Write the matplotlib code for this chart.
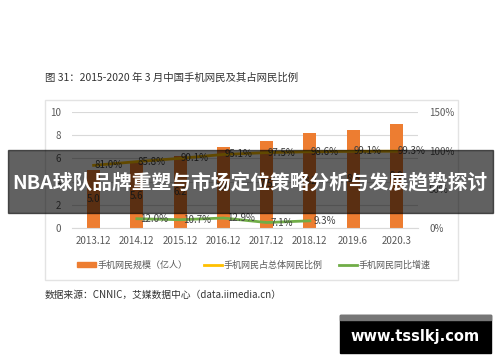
import numpy as np
import matplotlib.pyplot as plt
from matplotlib.patches import Rectangle
from matplotlib.lines import Line2D
from matplotlib.ticker import FuncFormatter

plt.rcParams['font.family'] = ['Noto Sans CJK SC', 'DejaVu Sans']

# Datos
categories = ['2013.12', '2014.12', '2015.12', '2016.12', '2017.12', '2018.12', '2019.6', '2020.3']
users = [5.0, 5.57, 6.2, 6.95, 7.53, 8.17, 8.47, 8.97]
ratio = [81.0, 85.8, 90.1, 95.1, 97.5, 98.6, 99.1, 99.3]
growthCats = ['2014.12', '2015.12', '2016.12', '2017.12', '2018.12']
growth = [12.0, 10.7, 12.9, 7.1, 9.3]

W, H = 500, 362
fig = plt.figure(figsize=(W / 100, H / 100), dpi=100)
fig.patch.set_facecolor('white')

def fx(px):
    return px / W

def fy(py):
    return 1 - py / H

#Ejes principales
ax = fig.add_axes([fx(72), fy(228), fx(418) - fx(72), fy(112) - fy(228)])
ax2 = ax.twinx()
x = np.arange(len(categories))
gx = [categories.index(c) for c in growthCats]

gridColor = '#d9d9d9'
tickColor = '#595959'
orange = '#ED7D31'
gold = '#FFC000'
green = '#70AD47'

ax.bar(x, users, width=0.3, color=orange, zorder=2)
for xi, v in zip(x, users):
    ax.text(xi, v / 2, f"{v:.1f}", ha='center', va='center', fontsize=7, color='#404040', zorder=3)

ax.set_xlim(-0.5, len(categories) - 0.5)
ax.set_ylim(0, 10)
ax.set_yticks([0, 2, 4, 6, 8, 10])
ax.set_xticks(x)
ax.set_xticklabels(categories)
ax.yaxis.grid(True, color=gridColor, lw=0.8, zorder=0)
ax.set_axisbelow(True)
for s in ['top', 'right', 'left']:
    ax.spines[s].set_visible(False)
ax.spines['bottom'].set_color(gridColor)
ax.tick_params(axis='both', length=0, labelsize=7, colors=tickColor)
ax.tick_params(axis='x', pad=6)
ax.tick_params(axis='y', pad=8)

ax2.plot(x, ratio, color=gold, lw=2, zorder=4)
ax2.plot(gx, growth, color=green, lw=2, zorder=4)
for xi, v in zip(x, ratio):
    ax2.text(xi + 0.02, v, f"{v:.1f}%", ha='left', va='center', fontsize=7, color='#404040', zorder=5)
for xi, v in zip(gx, growth):
    ax2.text(xi + 0.08, v, f"{v:.1f}%", ha='left', va='center', fontsize=7, color='#404040', zorder=5)
ax2.set_ylim(0, 150)
ax2.set_yticks([0, 50, 100, 150])
ax2.yaxis.set_major_formatter(FuncFormatter(lambda v, p: f"{v:.0f}%"))
for s in ['top', 'right', 'left', 'bottom']:
    ax2.spines[s].set_visible(False)
ax2.tick_params(axis='y', length=0, labelsize=7, colors=tickColor, pad=8)

#Leyenda
handles = [Rectangle((0, 0), 1, 1, color=orange),
           Line2D([], [], color=gold, lw=2),
           Line2D([], [], color=green, lw=2)]
labels = ['手机网民规模（亿人）', '手机网民占总体网民比例', '手机网民同比增速']
fig.legend(handles, labels, loc='center', bbox_to_anchor=(fx(254), fy(265)), ncol=3,
           frameon=False, fontsize=6.5, handlelength=2, handleheight=0.5,
           columnspacing=1.8, handletextpad=0.2, labelcolor=tickColor)

#Marco del grafico
fig.patches.append(Rectangle((fx(45), fy(280)), fx(458) - fx(45), fy(100) - fy(280),
                             transform=fig.transFigure, fill=False, edgecolor='#e3e3e3', lw=1))

#Titulo y fuente
fig.text(fx(45), fy(78), '图 31：2015-2020 年 3 月中国手机网民及其占网民比例',
         fontsize=7.5, color='#333333', va='center', ha='left')
fig.text(fx(45), fy(295), '数据来源：CNNIC，艾媒数据中心（data.iimedia.cn）',
         fontsize=7, color='#333333', va='center', ha='left')

#Banda oscura con el titulo
fig.patches.append(Rectangle((fx(8), fy(213)), fx(493) - fx(8), fy(150) - fy(213),
                             transform=fig.transFigure, color='black', alpha=0.62, zorder=10))
fig.text(0.5, fy(182), 'NBA球队品牌重塑与市场定位策略分析与发展趋势探讨',
         fontsize=14.2, fontweight='bold', color='white', ha='center', va='center', zorder=11)

#Marca de agua
fig.patches.append(Rectangle((fx(340), fy(353)), fx(491) - fx(340), fy(315) - fy(353),
                             transform=fig.transFigure, color='black', zorder=10))
fig.patches.append(Rectangle((fx(340), fy(320)), fx(491) - fx(340), fy(315) - fy(320),
                             transform=fig.transFigure, color='#777777', zorder=11))
fig.text(fx(415), fy(337), 'www.tsslkj.com', fontsize=10.5, fontweight='bold', color='white',
         family='DejaVu Sans', ha='center', va='center', zorder=12)

fig.savefig('out.png', dpi=100)
